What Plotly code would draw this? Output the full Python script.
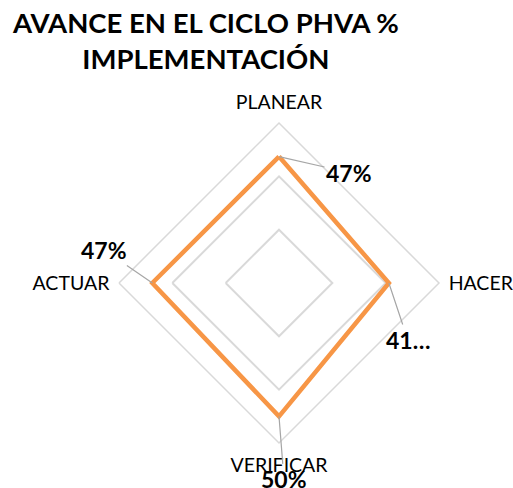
import plotly.graph_objects as go
import math

categories = ["PLANEAR", "HACER", "VERIFICAR", "ACTUAR"]
values = [0.474, 0.412, 0.50, 0.475]
labels = ["47%", "41…", "50%", "47%"]
label_offsets = [(70, 16), (19, 57), (5, 63), (-48, -33)]  # pixel offsets of labels
grid_vals = [0.2, 0.4, 0.6]

W, H = 513, 488
cx, cy, R = 279, 283, 160
rmax = 0.6
dom_x = [(cx - R) / W, (cx + R) / W]
dom_y = [(H - cy - R) / H, (H - cy + R) / H]

fig = go.Figure()
fig.add_trace(go.Scatterpolar(
    r=values + values[:1],
    theta=categories + categories[:1],
    mode="lines",
    line=dict(color="#F79646", width=4.5),
    hoverinfo="skip",
))

n = len(categories)
for i, (v, lab, (ox, oy)) in enumerate(zip(values, labels, label_offsets)):
    ang = math.radians(90 - i * 360 / n)
    px = cx + R * v / rmax * math.cos(ang)
    py = cy - R * v / rmax * math.sin(ang)
    fig.add_annotation(
        x=px / W, y=1 - py / H, xref="paper", yref="paper",
        ax=ox, ay=oy, axref="pixel", ayref="pixel",
        text=lab, showarrow=True, arrowhead=0, arrowwidth=1.2,
        arrowcolor="#A6A6A6", standoff=0, startstandoff=0,
        font=dict(family="Lato", size=23, color="#000000", weight="bold"),
    )

fig.add_annotation(
    x=205 / W, y=1 - 4 / H, xref="paper", yref="paper",
    xanchor="center", yanchor="top", showarrow=False,
    text="<b>AVANCE EN EL CICLO PHVA %<br>IMPLEMENTACIÓN</b>",
    font=dict(family="Lato", size=27.5, color="#000000"),
)

fig.update_layout(
    width=W, height=H,
    margin=dict(l=0, r=0, t=0, b=0),
    paper_bgcolor="white",
    showlegend=False,
    polar=dict(
        domain=dict(x=dom_x, y=dom_y),
        bgcolor="white",
        gridshape="linear",
        angularaxis=dict(
            type="category",
            rotation=90, direction="clockwise",
            showgrid=False, showline=True, linecolor="#D9D9D9", linewidth=1.5,
            ticks="outside", ticklen=5, tickcolor="rgba(0,0,0,0)",
            tickfont=dict(family="Lato", size=19.5, color="#000000"),
        ),
        radialaxis=dict(
            range=[0, rmax], tickvals=grid_vals, showticklabels=False,
            showline=False, ticks="", gridcolor="#D9D9D9", gridwidth=1.5,
        ),
    ),
)

fig.write_html("out.html")
